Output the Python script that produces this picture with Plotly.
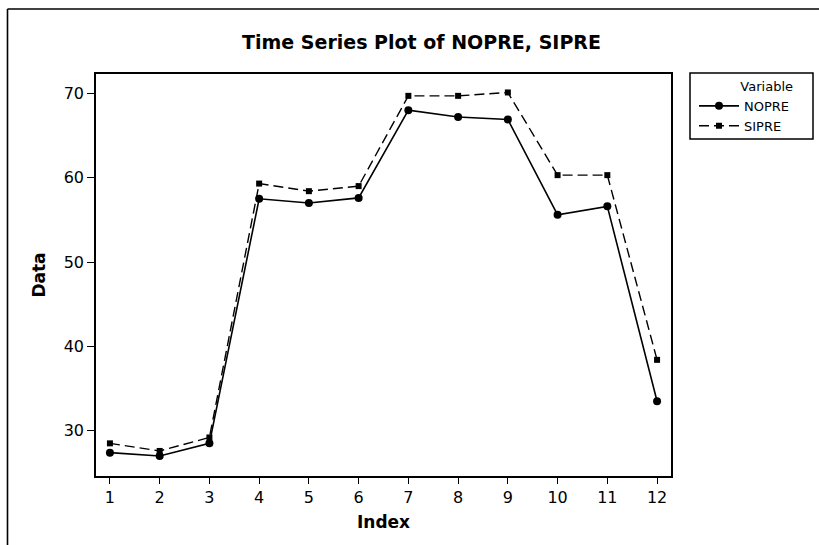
import plotly.graph_objects as go

# Monthly index and the two series
index = list(range(1, 13))
nopre = [27.4, 27.0, 28.5, 57.5, 57.0, 57.6, 68.0, 67.2, 66.9, 55.6, 56.6, 33.5]
sipre = [28.5, 27.6, 29.2, 59.3, 58.4, 59.0, 69.7, 69.7, 70.1, 60.3, 60.3, 38.4]

x_ticks = list(range(1, 13))
y_ticks = [30, 40, 50, 60, 70]

W, H = 819, 545
L, R, T, B = 96, 148, 74, 69

fig = go.Figure()
fig.add_trace(go.Scatter(
    x=index, y=nopre, name="NOPRE", mode="lines+markers",
    line=dict(color="black", width=1.6),
    marker=dict(symbol="circle", size=8, color="black"),
))
fig.add_trace(go.Scatter(
    x=index, y=sipre, name="SIPRE", mode="lines+markers",
    line=dict(color="black", width=1.4, dash="10px,5px"),
    marker=dict(symbol="square", size=6, color="black"),
))

# pixel -> paper helpers
pw, ph = W - L - R, H - T - B
def px_x(v):
    return (v - L) / pw
def px_y(v):
    return (H - B - v) / ph

# Outer figure frame (left and top edges)
fig.add_shape(type="line", xref="paper", yref="paper",
              x0=px_x(7.5), x1=px_x(7.5), y0=px_y(9), y1=px_y(560),
              line=dict(color="black", width=1.6))
fig.add_shape(type="line", xref="paper", yref="paper",
              x0=px_x(7.5), x1=px_x(830), y0=px_y(9), y1=px_y(9),
              line=dict(color="black", width=1.6))

# Legend frame
fig.add_shape(type="rect", xref="paper", yref="paper",
              x0=px_x(690), x1=px_x(813), y0=px_y(139), y1=px_y(73),
              line=dict(color="black", width=1.5), fillcolor="rgba(0,0,0,0)",
              layer="above")

fig.update_layout(
    width=W, height=H,
    margin=dict(l=L, r=R, t=T, b=B),
    paper_bgcolor="white", plot_bgcolor="white",
    font=dict(family="DejaVu Sans", color="black"),
    title=dict(text="<b>Time Series Plot of NOPRE, SIPRE</b>",
               x=(240 + 603) / 2 / W, xanchor="center",
               y=1 - 42 / H, yanchor="middle",
               font=dict(size=19, family="DejaVu Sans")),
    legend=dict(
        x=px_x(694), y=px_y(74), xanchor="left", yanchor="top",
        bgcolor="rgba(0,0,0,0)", borderwidth=0,
        font=dict(size=13, family="DejaVu Sans"),
        title=dict(text="Variable", side="top right",
                   font=dict(size=13, family="DejaVu Sans")),
        itemwidth=40,
    ),
    showlegend=True,
)

fig.update_xaxes(
    range=[0.72, 12.28], tickvals=x_ticks, ticktext=[str(v) for v in x_ticks],
    showgrid=False, zeroline=False,
    showline=True, linecolor="black", linewidth=1.6, mirror=True,
    ticks="outside", ticklen=6, tickwidth=1.4, tickcolor="black",
    tickfont=dict(size=16, family="DejaVu Sans"),
    title=dict(text="<b>Index</b>", font=dict(size=17), standoff=10),
)
fig.update_yaxes(
    range=[24.63, 72.29], tickvals=y_ticks, ticktext=[str(v) for v in y_ticks],
    showgrid=False, zeroline=False,
    showline=True, linecolor="black", linewidth=1.6, mirror=True,
    ticks="outside", ticklen=7, tickwidth=1.4, tickcolor="black",
    tickfont=dict(size=16, family="DejaVu Sans"),
    title=dict(text="<b>Data</b>", font=dict(size=17), standoff=14),
)

fig.write_html("out.html")
